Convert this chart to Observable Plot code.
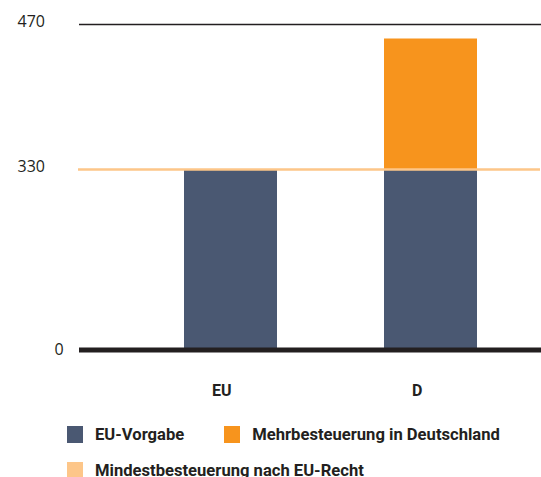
<!DOCTYPE html>
<html>
<head>
<meta charset="utf-8">
<script src="https://cdn.jsdelivr.net/npm/d3@7"></script>
<script src="https://cdn.jsdelivr.net/npm/@observablehq/plot@0.6"></script>
<style>
  body { margin: 0; background: #fff; font-family: Roboto, "Noto Sans", sans-serif; }
  #legend { display: flex; flex-wrap: wrap; width: 480px; padding-left: 67px; }
  .item { display: flex; align-items: center; height: 36px; font-weight: 700; font-size: 16.6px; color: #231f20; }
  .sw { width: 16px; height: 17px; margin-right: 12px; }
</style>
</head>
<body>
<div id="chart"></div>
<div id="legend"></div>
<script>
const categories = ["EU", "D"];
const seriesNames = ["EU-Vorgabe", "Mehrbesteuerung in Deutschland"];
const euVorgabe = [330, 330];
const mehrbesteuerung = [0, 126];
const mindestName = "Mindestbesteuerung nach EU-Recht";
const mindest = 330;
const yTicks = [0, 330, 470];
const colors = ["#4a5872", "#f7941d"];
const mindestColor = "#fdc689";

const rows = [];
categories.forEach((c, i) => {
  rows.push({cat: c, series: seriesNames[0], value: euVorgabe[i]});
  rows.push({cat: c, series: seriesNames[1], value: mehrbesteuerung[i]});
});

const tickFont = "'Open Sans', 'Noto Sans', sans-serif";
const chart = Plot.plot({
  width: 541,
  height: 416,
  marginLeft: 79,
  marginRight: 0,
  marginTop: 0,
  marginBottom: 0,
  style: {fontFamily: "Roboto, 'Noto Sans', sans-serif", color: "#231f20"},
  x: {domain: categories, paddingInner: 0.537, paddingOuter: 0.418, align: 0.619, axis: null},
  y: {type: "linear", domain: yTicks, range: [349.5, 169, 24], axis: null},
  color: {domain: seriesNames, range: colors},
  marks: [
    Plot.ruleY([yTicks[2]], {stroke: "#231f20", strokeWidth: 1.5}),
    Plot.barY(rows, {x: "cat", y: "value", fill: "series", order: seriesNames}),
    Plot.ruleY([mindest], {stroke: mindestColor, strokeWidth: 2.5, dx: -1}),
    Plot.ruleY([yTicks[0]], {stroke: "#231f20", strokeWidth: 5}),
    Plot.text(yTicks.slice(1), {y: d => d, text: d => String(d), frameAnchor: "left", textAnchor: "start", dx: -62, dy: -3, fontSize: 16, fontFamily: tickFont, fill: "#231f20"}),
    Plot.text(yTicks.slice(0, 1), {y: d => d, text: d => String(d), frameAnchor: "left", textAnchor: "start", dx: -25, dy: 0, fontSize: 16, fontFamily: tickFont, fill: "#231f20"}),
    Plot.text(categories, {x: d => d, y: () => 0, text: d => d, textAnchor: "start", dx: -19, dy: 41, fontSize: 16, fontWeight: 700, fontFamily: "Roboto, sans-serif", fill: "#231f20"})
  ]
});
document.getElementById("chart").appendChild(chart);

const legend = document.getElementById("legend");
const items = [[seriesNames[0], colors[0]], [seriesNames[1], colors[1]], [mindestName, mindestColor]];
items.forEach(([name, col], i) => {
  const it = document.createElement("div");
  it.className = "item";
  it.style.marginRight = i === 0 ? "40px" : "0";
  if (i === 2) it.style.width = "100%";
  const sw = document.createElement("span");
  sw.className = "sw";
  sw.style.background = col;
  it.appendChild(sw);
  it.appendChild(document.createTextNode(name));
  legend.appendChild(it);
});
</script>
</body>
</html>
